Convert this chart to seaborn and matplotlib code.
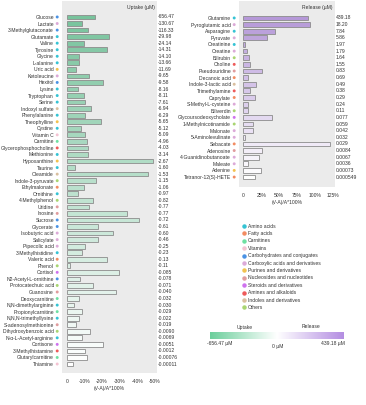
import numpy as np
import pandas as pd
import matplotlib
matplotlib.use("Agg")
import matplotlib.pyplot as plt
import matplotlib.transforms as mtransforms
from matplotlib.colors import LinearSegmentedColormap
import seaborn as sns

# Metabolitos captados (uptake)
uptake_names = [
    "Glucose", "Lactate", "3-Methylglutaconate", "Glutamate", "Valine", "Tyrosine",
    "Glycine", "L-alanine", "Uric acid", "Ketoleucine", "Hexitol", "Lysine",
    "Tryptophan", "Serine", "Indoxyl sulfate", "Phenylalanine", "Theophylline",
    "Cystine", "Vitamin C", "Carnitine", "Glycerophosphocholine", "Methionine",
    "Hypoxanthine", "Taurine", "Oleamide", "Indole-3-pyruvate", "Ethylmalonate",
    "Ornithine", "4-Methylphenol", "Uridine", "Inosine", "Sucrose", "Glycerate",
    "Isobutyric acid", "Salicylate", "Pipecolic acid", "3-Methylhistidine",
    "Valeric acid", "Phenol", "Cortisol", "N2-Acetyl-L-ornithine",
    "Protocatechuic acid", "Guanosine", "Deoxycarnitine", "N,N-dimethylarginine",
    "Propionylcarnitine", "N,N,N-trimethyllysine", "S-adenosylmethionine",
    "Dihydroxybenzoic acid", "N-α-L-Acetyl-arginine", "Cortisone",
    "3-Methylhistamine", "Glutarylcarnitine", "Thiamine",
]
uptake_pct = [
    -16.0, -8.9, -12.2, -24.0, -9.8, -23.0, -6.8, -7.2, -5.1, -12.8, -20.3, -6.6,
    -9.8, -10.5, -13.7, -10.5, -19.6, -8.3, -10.4, -11.7, -12.2, -12.2, -49.0, -4.9,
    -45.8, -16.4, -9.8, -6.2, -14.7, -12.8, -34.3, -40.7, -17.5, -26.4, -17.5, -10.2,
    -8.5, -22.6, -1.7, -29.8, -7.5, -14.7, -27.7, -7.2, -4.0, -8.7, -7.0, -5.5,
    -13.2, -8.5, -20.7, -10.5, -11.7, -3.8,
]
uptake_um = [
    "-656.47", "-130.67", "-116.33", "-29.98", "-24.14", "-14.31", "-14.10", "-13.66",
    "-11.69", "-9.65", "-9.58", "-8.16", "-8.11", "-7.61", "-6.94", "-6.29", "-5.65",
    "-5.12", "-5.09", "-4.96", "-4.03", "-3.14", "-2.67", "-1.60", "-1.53", "-1.15",
    "-1.06", "-0.97", "-0.82", "-0.77", "-0.77", "-0.72", "-0.61", "-0.60", "-0.46",
    "-0.25", "-0.23", "-0.13", "-0.11", "-0.085", "-0.078", "-0.071", "-0.040",
    "-0.032", "-0.030", "-0.029", "-0.022", "-0.019", "-0.0090", "-0.0069", "-0.0051",
    "-0.0012", "-0.00076", "-0.00011",
]
uptake_class = [
    "carb", "carbox", "carb", "amino", "amino", "amino", "amino", "amino", "purine",
    "carbox", "carb", "amino", "amino", "amino", "indole", "amino", "purine", "amino",
    "vit", "carn", "amine", "amino", "purine", "amino", "indole", "other", "fatty",
    "amino", "other", "nucl", "nucl", "carb", "carb", "carbox", "carbox", "carbox",
    "amino", "fatty", "other", "steroid", "carb", "other", "nucl", "carn", "amino",
    "carn", "amino", "nucl", "other", "amino", "steroid", "amine", "carn", "vit",
]

# Metabolitos liberados (release)
release_names = [
    "Glutamine", "Pyroglutamic acid", "Asparagine", "Pyruvate", "Creatinine",
    "Creatine", "Bilirubin", "Choline", "Pseudouridine", "Decanoic acid",
    "Indole-3-lactic acid", "Trimethylamine", "Caprylate", "S-Methyl-L-cysteine",
    "Biliverdin", "Glycoursodeoxycholate", "1-Methylnicotinamide", "Malonate",
    "5-Aminolevulinate", "Sebacate", "Adenosine", "4-Guanidinobutanoate", "Maleate",
    "Adenine", "Tetranor-12(S)-HETE",
]
release_pct = [
    90.8, 93.0, 45.0, 33.0, 2.8, 5.0, 7.5, 9.8, 25.6, 6.5, 17.2, 8.8, 15.8, 6.0, 7.0,
    40.5, 14.0, 14.0, 2.8, 121.0, 26.5, 21.4, 6.5, 25.0, 16.3,
]
release_um = [
    "439.18", "18.20", "7.84", "5.86", "1.97", "1.79", "1.64", "1.55", "0.83", "0.69",
    "0.49", "0.38", "0.29", "0.24", "0.11", "0.077", "0.059", "0.042", "0.032",
    "0.029", "0.0084", "0.0067", "0.0036", "0.00073", "0.000549",
]
release_class = [
    "amino", "carbox", "amino", "carbox", "amino", "carbox", "other", "amine", "nucl",
    "fatty", "indole", "amine", "fatty", "carbox", "other", "steroid", "other",
    "carbox", "carbox", "fatty", "nucl", "carbox", "carbox", "purine", "fatty",
]

# Clases de metabolitos (leyenda)
class_keys = ["amino", "fatty", "carn", "vit", "carb", "carbox", "purine", "nucl",
              "steroid", "amine", "indole", "other"]
class_labels = ["Amino acids", "Fatty acids", "Carnitines", "Vitamins",
                "Carbohydrates and conjugates", "Carboxylic acids and derivatives",
                "Purines and derivatives", "Nucleosides and nucleotides",
                "Steroids and derivatives", "Amines and alkaloids",
                "Indoles and derivatives", "Others"]
class_colors = ["#35c3d4", "#f28c62", "#6fe0a2", "#f4c3d2", "#4a92e4", "#dcaad8",
                "#f2c24f", "#e09c9d", "#cf72ee", "#ee5a5a", "#d9bf9f", "#a9d571"]
color_of = dict(zip(class_keys, class_colors))

uptake_color = "#6ccf9c"
release_color = "#b48ee2"

W, H = 366, 405


def fx(x):
    return x / W


def fy(y):
    return 1 - y / H


sns.set_style("white")
plt.rcParams['font.family'] = ['Liberation Sans', 'DejaVu Sans']
FS = 3.6
TXT = "#333333"

fig = plt.figure(figsize=(W / 100, H / 100), dpi=100)


def panel(box, names, pct, vals, classes, color, xlim, ylim, ticks, ticklabels):
    # box en píxeles: (izq, arriba, der, abajo)
    l, t, r, b = box
    ax = fig.add_axes([fx(l), fy(b), (r - l) / W, (b - t) / H])
    df = pd.DataFrame({'name': names, 'pct': pct})
    pal = sns.blend_palette([color, "#ffffff"], len(names))
    sns.barplot(data=df, x='pct', y='name', hue='name', palette=pal, legend=False,
                orient='h', width=0.72, edgecolor='#8c8c8c', linewidth=0.6, ax=ax)
    ax.set_facecolor('#ebebeb')
    for s in ax.spines.values():
        s.set_visible(False)
    ax.set_xticks(ticks)
    ax.set_xticklabels(ticklabels)
    ax.tick_params(axis='x', labelsize=FS, length=1.5, width=0.4, color='#999999',
                   pad=2.5, labelcolor=TXT)
    ax.tick_params(axis='y', labelsize=FS, length=0, pad=5.8, labelcolor=TXT)
    ax.set_xlabel('(V-A)/A*100%', fontsize=FS, labelpad=2, color=TXT)
    ax.set_ylabel('')
    trans = mtransforms.blended_transform_factory(ax.transAxes, ax.transData)
    ypos = np.arange(len(names))
    ax.scatter(np.full(len(names), -4.8 / (r - l)), ypos, s=4.5,
               c=[color_of[c] for c in classes], transform=trans, clip_on=False,
               linewidths=0)
    for i, v in enumerate(vals):
        ax.text(1.006, i, v, transform=trans, fontsize=FS, va='center', ha='left',
                color=TXT)
    ax.set_xlim(*xlim)
    ax.set_ylim(*ylim)
    return ax


ax1 = panel((62, 1, 157, 373), uptake_names, uptake_pct, uptake_um, uptake_class,
            uptake_color, (2.66, -51.1), (54.37, -2.44),
            [0, -10, -20, -30, -40, -50], ["0", "-10%", "-20%", "-30%", "-40%", "-50%"])
ax2 = panel((239, 1, 335, 187), release_names, release_pct, release_um, release_class,
            release_color, (-6.0, 128.2), (25.5, -2.56),
            [0, 25, 50, 75, 100, 125], ["0", "25%", "50%", "75%", "100%", "125%"])

fig.text(fx(155), fy(7), "Uptake (µM)", fontsize=FS, ha='right', va='center', color=TXT)
fig.text(fx(333), fy(7), "Release (µM)", fontsize=FS, ha='right', va='center', color=TXT)

# Leyenda de clases
for i, (lab, col) in enumerate(zip(class_labels, class_colors)):
    y = 226 + 7.4 * i
    fig.lines.append(plt.Line2D([fx(244)], [fy(y)], marker='o', markersize=2.2,
                                color=col, linestyle='none', transform=fig.transFigure))
    fig.text(fx(248), fy(y), lab, fontsize=FS, ha='left', va='center', color=TXT)

# Barra de color
cmap = LinearSegmentedColormap.from_list("ur", [uptake_color, "#ffffff", release_color])
cax = fig.add_axes([fx(210), fy(339), 134 / W, 7 / H])
cax.imshow(np.linspace(0, 1, 256)[None, :], aspect='auto', cmap=cmap)
cax.set_axis_off()
fig.text(fx(245), fy(327), "Uptake", fontsize=FS, ha='center', va='center', color=TXT)
fig.text(fx(311), fy(327), "Release", fontsize=FS, ha='center', va='center', color=TXT)
fig.text(fx(220), fy(344), "-656.47 µM", fontsize=FS, ha='center', va='center', color=TXT)
fig.text(fx(278), fy(346.5), "0 µM", fontsize=FS, ha='center', va='center', color=TXT)
fig.text(fx(333), fy(344), "439.18 µM", fontsize=FS, ha='center', va='center', color=TXT)

fig.savefig("out.png", dpi=100)
